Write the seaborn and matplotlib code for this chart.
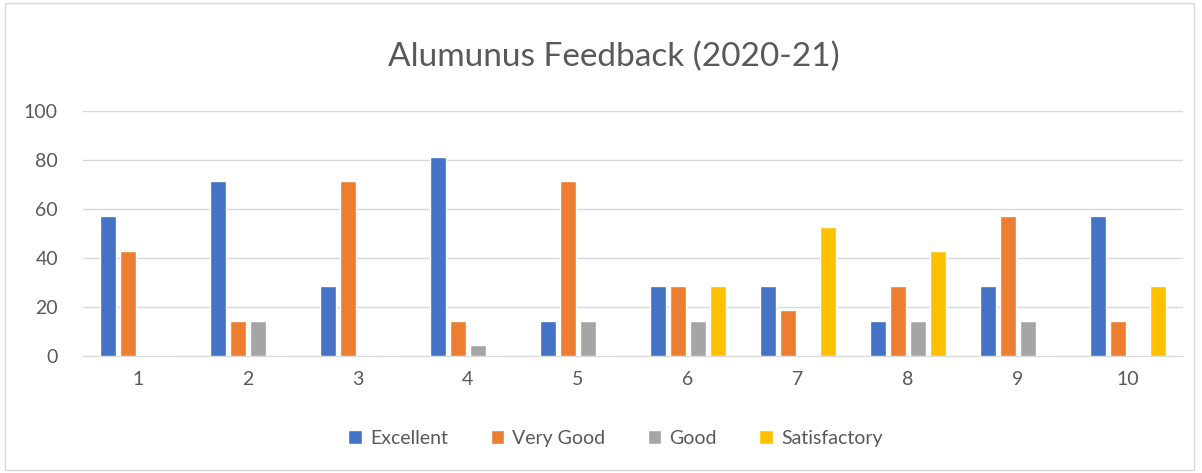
import pandas as pd
import matplotlib
matplotlib.use('Agg')
import matplotlib.pyplot as plt
import seaborn as sns
from matplotlib.patches import Rectangle

questions = [str(i) for i in range(1, 11)]
excellent = [57.1, 71.4, 28.6, 81.3, 14.3, 28.6, 28.6, 14.3, 28.6, 57.1]
very_good = [42.9, 14.3, 71.4, 14.3, 71.4, 28.6, 18.7, 28.6, 57.1, 14.3]
good = [0, 14.3, 0, 4.5, 14.3, 14.3, 0, 14.3, 14.3, 0]
satisfactory = [0, 0, 0, 0, 0, 28.6, 52.8, 42.9, 0, 28.6]
ratings = ['Excellent', 'Very Good', 'Good', 'Satisfactory']
colors = ['#4472C4', '#ED7D31', '#A5A5A5', '#FFC000']

df = pd.DataFrame({'question': questions * 4,
                   'rating': sum([[r] * 10 for r in ratings], []),
                   'value': excellent + very_good + good + satisfactory})

sns.set_style('white')
plt.rcParams['font.family'] = ['Lato', 'DejaVu Sans']

fig = plt.figure(figsize=(12.02, 4.73), dpi=100)
ax = fig.add_axes([0.069, 0.248, 0.915, 0.517])
sns.barplot(data=df, x='question', y='value', hue='rating', palette=colors,
            saturation=1, width=0.727, gap=0.2, ax=ax, zorder=3)

ax.set_ylim(0, 100)
ax.set_yticks(range(0, 101, 20))
ax.grid(axis='y', color='#d9d9d9', linewidth=1, zorder=0)
for s in ['top', 'right', 'left']:
    ax.spines[s].set_visible(False)
ax.spines['bottom'].set_color('#d9d9d9')
ax.tick_params(axis='both', length=0, labelsize=14, colors='#595959')
ax.tick_params(axis='x', pad=11)
ax.tick_params(axis='y', pad=18)
ax.set_xlabel('')
ax.set_ylabel('')

fig.text(0.511, 0.88, 'Alumunus Feedback (2020-21)', ha='center', va='center',
         fontsize=24, color='#595959')

handles, labels = ax.get_legend_handles_labels()
ax.legend(handles, labels, loc='center', bbox_to_anchor=(0.512, 0.073),
          bbox_transform=fig.transFigure, ncol=4, frameon=False,
          fontsize=14, labelcolor='#595959', handlelength=0.7, handleheight=0.7,
          handletextpad=0.4, columnspacing=2.2)

fig.patches.append(Rectangle((0.004, 0.006), 0.989, 0.988, transform=fig.transFigure,
                             fill=False, edgecolor='#d9d9d9', linewidth=1))

plt.savefig('out.png', dpi=100)
